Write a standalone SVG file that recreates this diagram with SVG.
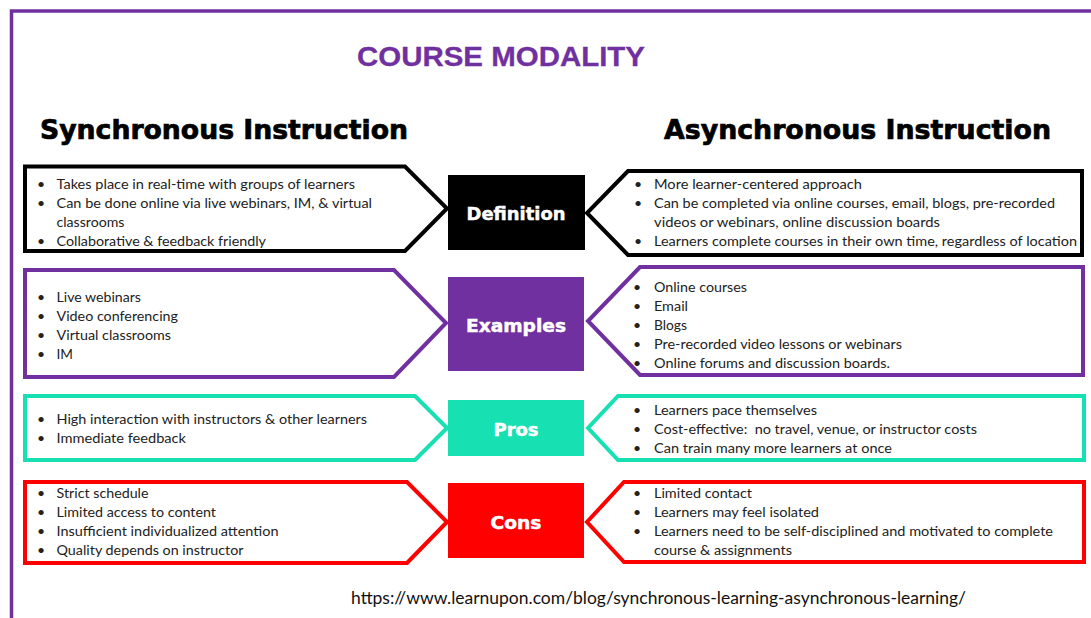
<svg xmlns="http://www.w3.org/2000/svg" width="1091" height="618" viewBox="0 0 1091 618">
  <style>
    .frame { fill: none; stroke: #7030A0; stroke-width: 3.5; }
    .title { font-family: "Liberation Sans", Arial, sans-serif; font-weight: bold; font-size: 28px; fill: #7030A0; stroke: #7030A0; stroke-width: 0.3; }
    .head { font-family: "DejaVu Sans", "Liberation Sans", sans-serif; font-weight: bold; font-size: 26px; fill: #000; stroke: #000; stroke-width: 0.7; }
    .label { font-family: "DejaVu Sans", "Liberation Sans", sans-serif; font-weight: bold; font-size: 18px; fill: #fff; stroke: #fff; stroke-width: 0.5; text-anchor: middle; }
    .body { font-family: Lato, "Liberation Sans", sans-serif; font-size: 14px; fill: #222; }
    .url { font-family: Lato, "Liberation Sans", sans-serif; font-size: 17px; fill: #111; }
    .shape { fill: #fff; stroke-width: 4; stroke-linejoin: miter; }
    .k { stroke: #000; }
    .p { stroke: #7030A0; }
    .g { stroke: #17E0B2; }
    .r { stroke: #FF0000; }
  </style>

  <!-- page frame -->
  <path class="frame" d="M11.5 618 V11 H1091"/>

  <g id="title">
    <text class="title" x="357" y="66" textLength="288" lengthAdjust="spacingAndGlyphs">COURSE MODALITY</text>
  </g>
  <g id="heading-sync">
    <text class="head" x="40" y="139" textLength="368" lengthAdjust="spacingAndGlyphs">Synchronous Instruction</text>
  </g>
  <g id="heading-async">
    <text class="head" x="664" y="139" textLength="387" lengthAdjust="spacingAndGlyphs">Asynchronous Instruction</text>
  </g>

  <!-- Row 1: Definition -->
  <g id="def-sync">
    <path class="shape k" d="M25 166.5 H405 L447 208.5 L405 251 H25 Z"/>
    <text class="body" x="37" y="189">•</text>
    <text class="body" x="56.5" y="189" textLength="298.5" lengthAdjust="spacingAndGlyphs">Takes place in real-time with groups of learners</text>
    <text class="body" x="37" y="208">•</text>
    <text class="body" x="56.5" y="208" textLength="315.5" lengthAdjust="spacingAndGlyphs">Can be done online via live webinars, IM, &amp; virtual</text>
    <text class="body" x="56.5" y="227" textLength="68" lengthAdjust="spacingAndGlyphs">classrooms</text>
    <text class="body" x="37" y="246">•</text>
    <text class="body" x="56.5" y="246" textLength="209.5" lengthAdjust="spacingAndGlyphs">Collaborative &amp; feedback friendly</text>
  </g>
  <g id="def-label">
    <rect x="448" y="175" width="137" height="75" fill="#000"/>
    <text class="label" x="516" y="220" textLength="99" lengthAdjust="spacingAndGlyphs">Definition</text>
  </g>
  <g id="def-async">
    <path class="shape k" d="M1082 171 H628 L587 213 L628 255 H1082 Z"/>
    <text class="body" x="634" y="189">•</text>
    <text class="body" x="654" y="189" textLength="208" lengthAdjust="spacingAndGlyphs">More learner-centered approach</text>
    <text class="body" x="634" y="208">•</text>
    <text class="body" x="654" y="208" textLength="401" lengthAdjust="spacingAndGlyphs">Can be completed via online courses, email, blogs, pre-recorded</text>
    <text class="body" x="654" y="227" textLength="286" lengthAdjust="spacingAndGlyphs">videos or webinars, online discussion boards</text>
    <text class="body" x="634" y="246">•</text>
    <text class="body" x="654" y="246" textLength="423" lengthAdjust="spacingAndGlyphs">Learners complete courses in their own time, regardless of location</text>
  </g>

  <!-- Row 2: Examples -->
  <g id="ex-sync">
    <path class="shape p" d="M25 270 H394 L446 323 L394 377 H25 Z"/>
    <text class="body" x="37" y="302">•</text>
    <text class="body" x="56.5" y="302" textLength="84.5" lengthAdjust="spacingAndGlyphs">Live webinars</text>
    <text class="body" x="37" y="321">•</text>
    <text class="body" x="56.5" y="321" textLength="121.5" lengthAdjust="spacingAndGlyphs">Video conferencing</text>
    <text class="body" x="37" y="340">•</text>
    <text class="body" x="56.5" y="340" textLength="114.5" lengthAdjust="spacingAndGlyphs">Virtual classrooms</text>
    <text class="body" x="37" y="359">•</text>
    <text class="body" x="56.5" y="359" textLength="16.5" lengthAdjust="spacingAndGlyphs">IM</text>
  </g>
  <g id="ex-label">
    <rect x="448" y="277" width="136" height="94" fill="#7030A0"/>
    <text class="label" x="516" y="332" textLength="100" lengthAdjust="spacingAndGlyphs">Examples</text>
  </g>
  <g id="ex-async">
    <path class="shape p" d="M1083 267 H640 L588 321 L640 375 H1083 Z"/>
    <text class="body" x="633" y="292">•</text>
    <text class="body" x="654" y="292" textLength="93" lengthAdjust="spacingAndGlyphs">Online courses</text>
    <text class="body" x="633" y="311">•</text>
    <text class="body" x="654" y="311" textLength="34" lengthAdjust="spacingAndGlyphs">Email</text>
    <text class="body" x="633" y="330">•</text>
    <text class="body" x="654" y="330" textLength="33" lengthAdjust="spacingAndGlyphs">Blogs</text>
    <text class="body" x="633" y="349">•</text>
    <text class="body" x="654" y="349" textLength="248" lengthAdjust="spacingAndGlyphs">Pre-recorded video lessons or webinars</text>
    <text class="body" x="633" y="368">•</text>
    <text class="body" x="654" y="368" textLength="236" lengthAdjust="spacingAndGlyphs">Online forums and discussion boards.</text>
  </g>

  <!-- Row 3: Pros -->
  <g id="pros-sync">
    <path class="shape g" d="M25 396 H415 L447 428 L415 460 H25 Z"/>
    <text class="body" x="37" y="424">•</text>
    <text class="body" x="56.5" y="424" textLength="310.5" lengthAdjust="spacingAndGlyphs">High interaction with instructors &amp; other learners</text>
    <text class="body" x="37" y="443">•</text>
    <text class="body" x="56.5" y="443" textLength="129.5" lengthAdjust="spacingAndGlyphs">Immediate feedback</text>
  </g>
  <g id="pros-label">
    <rect x="448" y="400" width="136" height="56" fill="#17E0B2"/>
    <text class="label" x="516" y="436" textLength="45" lengthAdjust="spacingAndGlyphs">Pros</text>
  </g>
  <g id="pros-async">
    <path class="shape g" d="M1084 396 H618 L588 428 L618 460 H1084 Z"/>
    <text class="body" x="633" y="415">•</text>
    <text class="body" x="654" y="415" textLength="163" lengthAdjust="spacingAndGlyphs">Learners pace themselves</text>
    <text class="body" x="633" y="434">•</text>
    <text class="body" x="654" y="434" textLength="323" lengthAdjust="spacingAndGlyphs" xml:space="preserve">Cost-effective:  no travel, venue, or instructor costs</text>
    <text class="body" x="633" y="453">•</text>
    <text class="body" x="654" y="453" textLength="238" lengthAdjust="spacingAndGlyphs">Can train many more learners at once</text>
  </g>

  <!-- Row 4: Cons -->
  <g id="cons-sync">
    <path class="shape r" d="M25 482 H407 L447 522 L407 563 H25 Z"/>
    <text class="body" x="37" y="498">•</text>
    <text class="body" x="56.5" y="498" textLength="92" lengthAdjust="spacingAndGlyphs">Strict schedule</text>
    <text class="body" x="37" y="517">•</text>
    <text class="body" x="56.5" y="517" textLength="159.5" lengthAdjust="spacingAndGlyphs">Limited access to content</text>
    <text class="body" x="37" y="536">•</text>
    <text class="body" x="56.5" y="536" textLength="222" lengthAdjust="spacingAndGlyphs">Insufficient individualized attention</text>
    <text class="body" x="37" y="555">•</text>
    <text class="body" x="56.5" y="555" textLength="187" lengthAdjust="spacingAndGlyphs">Quality depends on instructor</text>
  </g>
  <g id="cons-label">
    <rect x="448" y="483" width="136" height="75" fill="#FF0000"/>
    <text class="label" x="516" y="529" textLength="51" lengthAdjust="spacingAndGlyphs">Cons</text>
  </g>
  <g id="cons-async">
    <path class="shape r" d="M1084 482 H624 L587 522 L624 562 H1084 Z"/>
    <text class="body" x="633" y="498">•</text>
    <text class="body" x="654" y="498" textLength="98" lengthAdjust="spacingAndGlyphs">Limited contact</text>
    <text class="body" x="633" y="517">•</text>
    <text class="body" x="654" y="517" textLength="165" lengthAdjust="spacingAndGlyphs">Learners may feel isolated</text>
    <text class="body" x="633" y="536">•</text>
    <text class="body" x="654" y="536" textLength="399" lengthAdjust="spacingAndGlyphs">Learners need to be self-disciplined and motivated to complete</text>
    <text class="body" x="654" y="555" textLength="138" lengthAdjust="spacingAndGlyphs">course &amp; assignments</text>
  </g>

  <g id="source">
    <text class="url" x="351" y="604" textLength="615" lengthAdjust="spacingAndGlyphs">https://www.learnupon.com/blog/synchronous-learning-asynchronous-learning/</text>
  </g>
</svg>
